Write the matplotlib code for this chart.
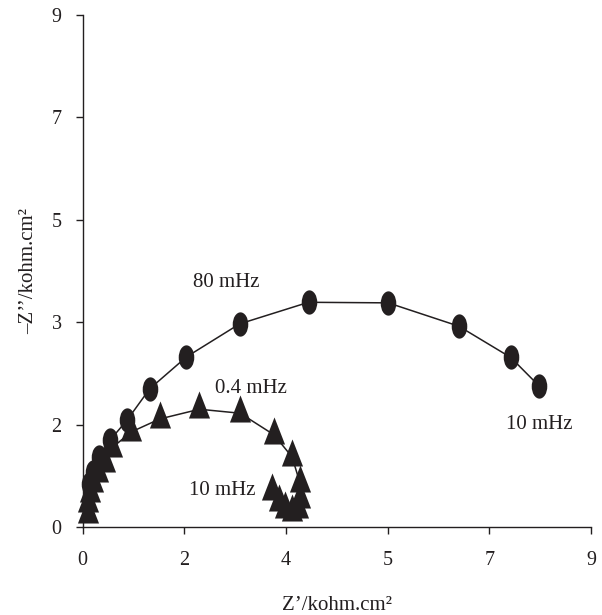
import numpy as np
import matplotlib
matplotlib.use('Agg')
import matplotlib.pyplot as plt
from matplotlib.path import Path

# valores (kohm.cm2)
z_real_circ = [0.11, 0.18, 0.30, 0.49, 0.79, 1.19, 1.84, 2.78, 4.00, 5.41, 6.66, 7.58, 8.08]
z_imag_circ = [0.76, 0.97, 1.23, 1.53, 1.88, 2.43, 2.99, 3.57, 3.95, 3.94, 3.53, 2.98, 2.48]

z_real_tri = [0.10, 0.10, 0.13, 0.19, 0.27, 0.40, 0.52, 0.86, 1.37, 2.07, 2.79, 3.39, 3.71,
              3.85, 3.85, 3.81, 3.71, 3.58, 3.48, 3.35]
z_imag_tri = [0.23, 0.42, 0.60, 0.77, 0.95, 1.12, 1.39, 1.67, 1.90, 2.07, 2.00, 1.62, 1.23,
              0.77, 0.49, 0.32, 0.26, 0.32, 0.44, 0.63]

tick_pos = [0, 1.8, 3.6, 5.4, 7.2, 9]
xtick_labels = ['0', '2', '4', '5', '7', '9']
ytick_labels = ['0', '2', '3', '5', '7', '9']

anotacoes = [('80 mHz', 2.54, 4.29), ('0.4 mHz', 2.99, 2.44),
             ('10 mHz', 8.08, 1.81), ('10 mHz', 2.48, 0.65)]

cor = '#231f20'
plt.rcParams['font.family'] = ['Liberation Serif', 'DejaVu Serif']

# marcadores "esticados" na vertical, como no original
elipse = Path(Path.unit_circle().vertices * [0.64, 1.0], Path.unit_circle().codes)
triang = Path([(0, 2 / 3), (-0.39, -1 / 3), (0.39, -1 / 3), (0, 2 / 3)],
              [Path.MOVETO, Path.LINETO, Path.LINETO, Path.CLOSEPOLY])

fig = plt.figure(figsize=(6.02, 6.15), dpi=100)
ax = fig.add_axes([82.5 / 602, 1 - 527 / 615, 508.5 / 602, 512 / 615])

ax.plot(z_real_circ, z_imag_circ, color=cor, lw=1.1, marker=elipse, ms=17.5,
        mfc=cor, mec=cor, mew=0, clip_on=False)
ax.plot(z_real_tri, z_imag_tri, color=cor, lw=1.1, marker=triang, ms=26,
        mfc=cor, mec=cor, mew=0, clip_on=False)

for txt, x, y in anotacoes:
    ax.text(x, y, txt, ha='center', va='center', fontsize=15, color=cor)

ax.set_xlim(0, 9)
ax.set_ylim(0, 9)
ax.set_xticks(tick_pos)
ax.set_xticklabels(xtick_labels)
ax.set_yticks(tick_pos)
ax.set_yticklabels(ytick_labels)

for s in ['top', 'right']:
    ax.spines[s].set_visible(False)
for s in ['left', 'bottom']:
    ax.spines[s].set_color(cor)
    ax.spines[s].set_linewidth(1.0)

ax.tick_params(axis='both', direction='out', length=5, width=1.0, color=cor,
               labelsize=14.5, labelcolor=cor)
ax.tick_params(axis='x', pad=12)
ax.tick_params(axis='y', pad=10)

ax.set_xlabel('Z’/kohm.cm²', fontsize=15, color=cor, labelpad=19)
ax.set_ylabel('–Z’’/kohm.cm²', fontsize=15, color=cor, labelpad=10)

fig.savefig('out.png', dpi=100)
